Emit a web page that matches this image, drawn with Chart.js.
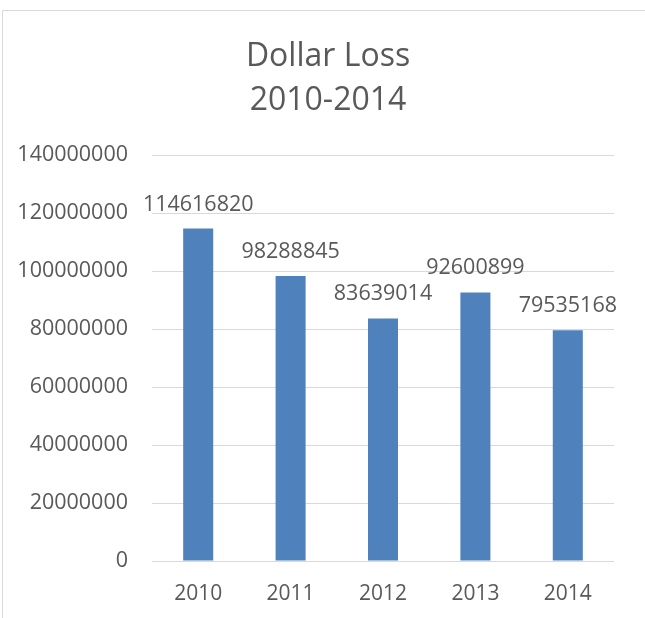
<!DOCTYPE html>
<html>
<head>
<meta charset="utf-8">
<script src="https://cdn.jsdelivr.net/npm/chart.js@4"></script>
<style>
  html, body { margin: 0; padding: 0; background: #fff; }
  #wrap { width: 645px; height: 618px; }
</style>
</head>
<body>
<div id="wrap"><canvas id="lossChart" width="645" height="618"></canvas></div>
<script>
const years = ['2010', '2011', '2012', '2013', '2014'];
const dollarLoss = [114616820, 98288845, 83639014, 92600899, 79535168];
const titleLines = ['Dollar Loss', '2010-2014'];
const yMax = 140000000;
const yStep = 20000000;

const textColor = '#595959';
const fontFamily = '"Open Sans", "Liberation Sans", sans-serif';

// frame, title and value labels over the bars
const decorations = {
    id: 'decorations',
    beforeDraw(chart) {
        const ctx = chart.ctx;
        ctx.save();
        ctx.strokeStyle = '#d9d9d9';
        ctx.lineWidth = 1;
        ctx.beginPath();
        ctx.moveTo(2.5, chart.height);
        ctx.lineTo(2.5, 10.5);
        ctx.lineTo(chart.width, 10.5);
        ctx.stroke();
        ctx.restore();
    },
    afterDatasetsDraw(chart) {
        const ctx = chart.ctx;
        ctx.save();
        ctx.fillStyle = textColor;
        ctx.textAlign = 'center';
        ctx.textBaseline = 'alphabetic';
        ctx.font = '32px ' + fontFamily;
        ctx.fillText(titleLines[0], 328, 66);
        ctx.fillText(titleLines[1], 328, 110);

        ctx.font = '21.5px ' + fontFamily;
        const meta = chart.getDatasetMeta(0);
        meta.data.forEach((bar, i) => {
            ctx.fillText(String(dollarLoss[i]), bar.x, bar.y - 18);
        });
        ctx.restore();
    }
};

const ctx = document.getElementById('lossChart').getContext('2d');
const lossChart = new Chart(ctx, {
    type: 'bar',
    data: {
        labels: years,
        datasets: [{
            label: 'Dollar Loss',
            data: dollarLoss,
            backgroundColor: '#4f81bd',
            categoryPercentage: 0.325,
            barPercentage: 1
        }]
    },
    options: {
        responsive: false,
        animation: false,
        layout: { padding: { top: 155, right: 31, bottom: 0, left: 0 } },
        plugins: {
            legend: { display: false },
            title: { display: false },
            tooltip: { enabled: false }
        },
        scales: {
            x: {
                grid: { display: false, drawTicks: false },
                border: { display: false },
                ticks: { color: textColor, font: { family: fontFamily, size: 21 }, padding: 20 },
                afterFit(scale) { scale.height = 57; }
            },
            y: {
                min: 0,
                max: yMax,
                grid: { color: '#d9d9d9', lineWidth: 1, drawTicks: false },
                border: { display: false },
                ticks: {
                    stepSize: yStep,
                    color: textColor,
                    font: { family: fontFamily, size: 21.5 },
                    padding: 24,
                    callback: v => String(v)
                },
                afterFit(scale) { scale.width = 152; }
            }
        }
    },
    plugins: [decorations]
});
</script>
</body>
</html>
